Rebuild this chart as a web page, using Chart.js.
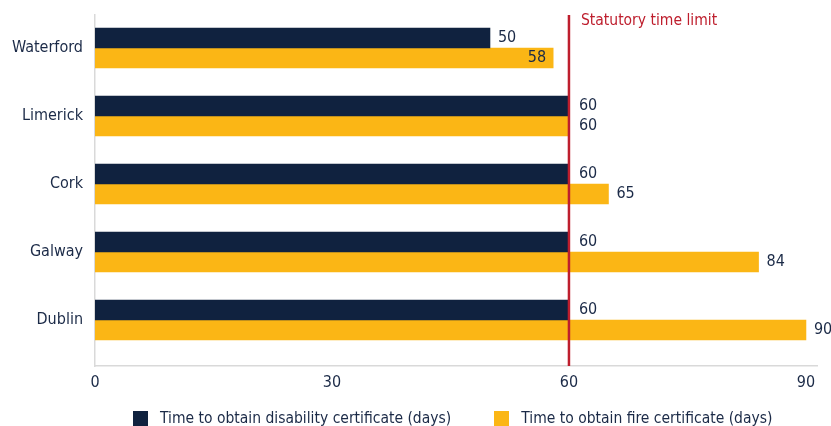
<!DOCTYPE html>
<html>
<head>
<meta charset="utf-8">
<script src="https://cdn.jsdelivr.net/npm/chart.js@4.4.1/dist/chart.umd.min.js"></script>
<style>
  html, body { margin: 0; padding: 0; background: #fff; }
  #wrap { position: relative; width: 831px; height: 426px; overflow: hidden; }
  #legend {
    position: absolute; left: 133px; top: 409px;
    display: flex; align-items: center;
    font-family: "DejaVu Sans Condensed", "Open Sans", sans-serif;
    font-size: 15.5px; line-height: 19px; color: #1b2a47; white-space: nowrap;
  }
  #legend .item { display: flex; align-items: center; margin-right: 43px; }
  #legend .box { width: 15px; height: 15px; margin-right: 12px; }
</style>
</head>
<body>
<div id="wrap">
  <canvas id="chart" width="831" height="426"></canvas>
  <div id="legend"></div>
</div>
<script>
const FONT = '"DejaVu Sans Condensed", "Open Sans", sans-serif';

const categories = ["Waterford", "Limerick", "Cork", "Galway", "Dublin"];
const disabilityDays = [50, 60, 60, 60, 60];
const fireDays = [58, 60, 65, 84, 90];
const xTicks = [0, 30, 60, 90];
const statutoryLimit = 60;
const limitLabel = "Statutory time limit";

const seriesLabels = [
    "Time to obtain disability certificate (days)",
    "Time to obtain fire certificate (days)"
];
const navy = "#10223f";
const gold = "#fbb615";
const red = "#be1e2d";
const textColor = "#1b2a47";

// vertical limit line + value labels at the bar ends
const overlayPlugin = {
    id: "overlay",
    afterDatasetsDraw(chart) {
        const { ctx, chartArea, scales } = chart;
        const lineX = scales.x.getPixelForValue(statutoryLimit);

        ctx.save();
        ctx.strokeStyle = red;
        ctx.lineWidth = 2.5;
        ctx.beginPath();
        ctx.moveTo(lineX, chartArea.top);
        ctx.lineTo(lineX, chartArea.bottom);
        ctx.stroke();

        ctx.fillStyle = red;
        ctx.font = "15.5px " + FONT;
        ctx.textAlign = "left";
        ctx.textBaseline = "middle";
        ctx.fillText(limitLabel, lineX + 12, chartArea.top + 6);

        ctx.font = "16px " + FONT;
        ctx.fillStyle = textColor;
        chart.data.datasets.forEach((ds, di) => {
            const meta = chart.getDatasetMeta(di);
            meta.data.forEach((bar, i) => {
                const txt = String(ds.data[i].x);
                const w = ctx.measureText(txt).width;
                let x = bar.x + 8;
                ctx.textAlign = "left";
                if (bar.x < lineX && x + w > lineX - 2) {
                    // no room before the limit line: put it inside the bar
                    x = bar.x - 7;
                    ctx.textAlign = "right";
                } else if (bar.x >= lineX - 1) {
                    x = Math.max(x, lineX + 10);
                }
                ctx.fillText(txt, x, bar.y);
            });
        });
        ctx.restore();
    }
};

const toPoints = values => values.map((v, i) => ({ x: v, y: i }));

const chart = new Chart(document.getElementById("chart"), {
    type: "bar",
    data: {
        datasets: [
            { label: seriesLabels[0], data: toPoints(disabilityDays), backgroundColor: navy, barThickness: 20 },
            { label: seriesLabels[1], data: toPoints(fireDays), backgroundColor: gold, barThickness: 20 }
        ]
    },
    options: {
        indexAxis: "y",
        responsive: false,
        animation: false,
        layout: { padding: { top: 15, right: 14, left: 0, bottom: 0 } },
        plugins: {
            legend: { display: false },
            tooltip: { enabled: false }
        },
        scales: {
            x: {
                type: "linear",
                min: 0,
                max: 91.4,
                afterBuildTicks: scale => { scale.ticks = xTicks.map(v => ({ value: v })); },
                afterFit: scale => { scale.height = 60; },
                grid: { display: false, drawTicks: false },
                border: { display: true, color: "#d9d9d9", width: 1.5 },
                ticks: { padding: 7, color: textColor, font: { family: FONT, size: 16 } }
            },
            y: {
                type: "linear",
                reverse: true,
                offset: false,
                min: -0.485,
                max: 4.676,
                afterBuildTicks: scale => {
                    scale.ticks = categories.map((c, i) => ({ value: i }));
                },
                afterFit: scale => {
                    scale.width = 95;
                    scale.paddingTop = 0;
                    scale.paddingBottom = 0;
                },
                grid: { display: false, drawTicks: false },
                border: { display: true, color: "#d9d9d9", width: 1.5 },
                ticks: {
                    padding: 12,
                    color: textColor,
                    font: { family: FONT, size: 16 },
                    callback: v => categories[v]
                }
            }
        }
    },
    plugins: [overlayPlugin]
});

// legend built from the datasets
const legend = document.getElementById("legend");
chart.data.datasets.forEach(ds => {
    const item = document.createElement("div");
    item.className = "item";
    const box = document.createElement("span");
    box.className = "box";
    box.style.background = ds.backgroundColor;
    const label = document.createElement("span");
    label.textContent = ds.label;
    item.appendChild(box);
    item.appendChild(label);
    legend.appendChild(item);
});
</script>
</body>
</html>
